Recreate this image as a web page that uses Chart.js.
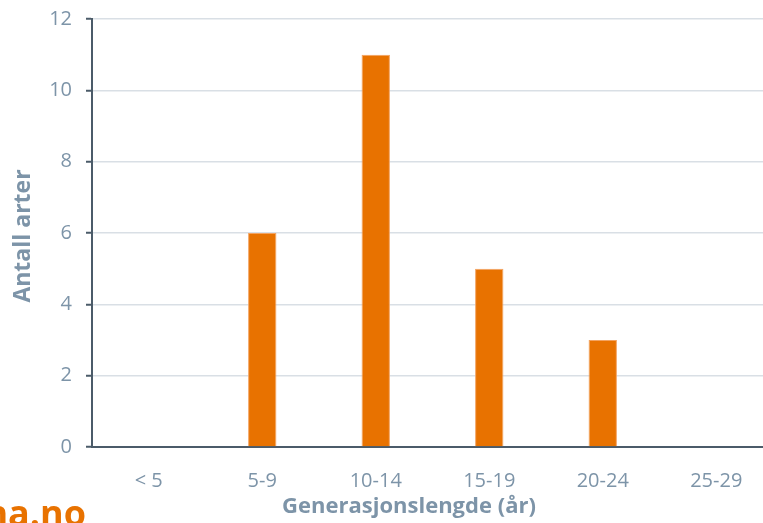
<!DOCTYPE html>
<html>
<head>
<meta charset="utf-8">
<script src="https://cdn.jsdelivr.net/npm/chart.js@4/dist/chart.umd.min.js"></script>
<style>
  html, body { margin: 0; padding: 0; background: #fff; overflow: hidden; }
  #wrap { width: 773px; height: 523px; }
</style>
</head>
<body>
<div id="wrap"><canvas id="c"></canvas></div>
<script>
var labels = ['< 5', '5-9', '10-14', '15-19', '20-24', '25-29'];
var antall = [0, 6, 11, 5, 3, 0];
var yTicks = [0, 2, 4, 6, 8, 10, 12];

var textColor = '#7d94a8';
var axisColor = '#4b5b69';
var orange = '#e87200';

// axis titles and the orange "na.no" cut by the left edge
var extraText = {
    id: 'extraText',
    afterDraw: function(chart) {
        var ctx = chart.ctx;
        ctx.save();
        ctx.fillStyle = textColor;
        ctx.textAlign = 'center';
        ctx.textBaseline = 'middle';
        ctx.font = 'bold 22px "Open Sans"';
        ctx.fillText('Generasjonslengde (år)', 409, 507);
        ctx.translate(23, 236);
        ctx.rotate(-Math.PI / 2);
        ctx.font = 'bold 23px "Open Sans"';
        ctx.fillText('Antall arter', 0, 0);
        ctx.restore();

        ctx.save();
        ctx.font = 'bold 36px "Open Sans"';
        ctx.fillStyle = orange;
        ctx.textAlign = 'right';
        ctx.textBaseline = 'alphabetic';
        ctx.fillText('na.no', 86, 526);
        ctx.restore();
    }
};

var ctx = document.getElementById('c').getContext('2d');
var chart = new Chart(ctx, {
    type: 'bar',
    data: {
        labels: labels,
        datasets: [{
            label: 'Antall arter',
            data: antall,
            backgroundColor: orange,
            borderColor: '#f3a361',
            borderWidth: 1,
            categoryPercentage: 1,
            barPercentage: 0.25
        }]
    },
    options: {
        responsive: true,
        maintainAspectRatio: false,
        animation: false,
        layout: { padding: { top: 19, left: 0, right: 0, bottom: 0 } },
        plugins: {
            legend: { display: false },
            tooltip: { enabled: false }
        },
        scales: {
            x: {
                grid: { display: false },
                border: { display: true, color: axisColor, width: 2 },
                ticks: {
                    color: textColor,
                    font: { family: 'Open Sans', size: 20 },
                    padding: 14,
                    maxRotation: 0
                },
                afterFit: function(scale) {
                    scale.height = 76;
                    scale.paddingLeft = 0;
                    scale.paddingRight = 0;
                }
            },
            y: {
                min: 0,
                max: 12,
                afterBuildTicks: function(scale) {
                    scale.ticks = yTicks.map(function(v) { return { value: v }; });
                },
                grid: {
                    color: '#d9dfe5',
                    lineWidth: 1.5,
                    tickColor: axisColor,
                    tickWidth: 2,
                    tickLength: 6
                },
                border: { display: true, color: axisColor, width: 2 },
                ticks: {
                    color: textColor,
                    font: { family: 'Open Sans', size: 20 },
                    padding: 14
                },
                afterFit: function(scale) {
                    scale.width = 92;
                    scale.paddingTop = 0;
                    scale.paddingBottom = 0;
                }
            }
        }
    },
    plugins: [extraText]
});
</script>
</body>
</html>
